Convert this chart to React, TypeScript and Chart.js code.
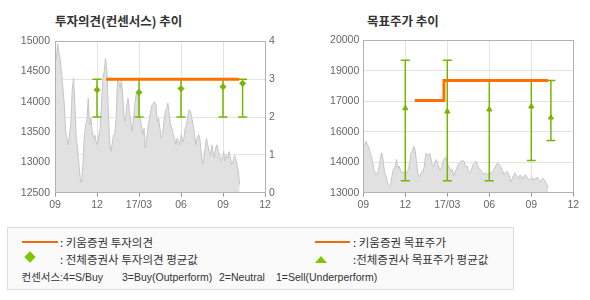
import React, { useEffect, useRef } from "react";
import { Chart, registerables } from "chart.js";

Chart.register(...registerables);

// ---- data ----
const xTickValues = [0, 3, 6, 9, 12, 15];
const xTickLabels = ["09", "12", "17/03", "06", "09", "12"];
const priceAxisLabels = ["12500", "13000", "13500", "14000", "14500", "15000"];
const opinionAxisLabels = ["0", "1", "2", "3", "4"];
const targetAxisLabels = ["13000", "14000", "16000", "17000", "19000", "20000"];

const priceEnd = 13.19;
const prices = [
  14630, 14720, 14960, 14800, 14700, 14450, 14220, 13950, 13510, 13400,
  13290, 13450, 13680, 14220, 14390, 13950, 13400, 13240, 12960, 12740,
  12660, 12960, 13400, 13620, 13680, 14060, 13620, 13730, 13510, 13400,
  13450, 13340, 13290, 13450, 13560, 13950, 14390, 14490, 14720, 14550,
  13950, 13400, 13180, 13290, 13450,
  13460, 13730, 14360, 14330, 14220, 14360, 14110, 13730, 13680, 13950,
  14060, 13840, 13680, 13510, 13680, 13950, 14110, 14170, 13950, 13730,
  13620, 13460, 13560, 13240, 13400, 13560, 13730, 13840, 13950, 13980,
  14000, 13950, 13680, 13730, 13560, 13400, 13460, 13680, 13840, 13890,
  13980, 13780, 13620, 13560, 13460, 13400, 13290,
  13400, 13340, 13290, 13460, 13340, 13400, 13560, 13620, 13780, 13870,
  13840, 13730, 13620, 13460, 13290, 13400, 13460, 13400, 13180, 12960,
  13070, 13240, 13400, 13290, 13180, 13120, 13290, 13180, 13070, 13240,
  13290, 13180, 13120, 13020, 13070, 13180, 13020, 13120, 13070, 13180,
  13070, 12960, 13020, 13120, 13070, 12960, 12850, 12630,
];

const opinionX = [3.65, 13.16];
const opinionY = [3, 3];
const consensusX = [3, 6, 9, 12, 13.4];
const opinionHigh = [3, 3, 3, 3, 3];
const opinionLow = [2, 2, 2, 2, 2];
const opinionMean = [2.72, 2.65, 2.75, 2.8, 2.89];

const targetX = [3.68, 5.76, 13.21];
const targetY = [17000, 18000, 18000];
const targetHigh = [19000, 19000, 18000, 18000, 18000];
const targetLow = [13000, 13000, 13000, 14000, 15000];
const targetMean = [16610, 16450, 16550, 16700, 16150];

const consensusNote = ["컨센서스:4=S/Buy", "3=Buy(Outperform)", "2=Neutral", "1=Sell(Underperform)"];

// ---- styles ----
const ORANGE = "#ff7000";
const GREEN = "#76b600";
const GRID = "#e4e4e4";
const FRAME = "#b2b2b2";
const LABEL = "#666";
const TICKFONT = { family: "'Liberation Sans', Arial, sans-serif", size: 10.5 };

const pricePoints = () =>
  prices.map((y, i) => ({ x: (i * priceEnd) / (prices.length - 1), y }));
const linePoints = (xs: number[], ys: number[]) => xs.map((x, i) => ({ x, y: ys[i] }));
const barPoints = (xs: number[], hi: number[], lo: number[]) => {
  const pts: any[] = [];
  xs.forEach((x, i) => {
    pts.push({ x, y: lo[i] }, { x, y: hi[i] }, { x, y: null });
  });
  return pts;
};

const framePlugin = {
  id: "frame",
  afterDatasetsDraw(chart: any) {
    const { ctx, chartArea: a } = chart;
    ctx.save();
    ctx.strokeStyle = FRAME;
    ctx.lineWidth = 1;
    ctx.strokeRect(Math.round(a.left) + 0.5, Math.round(a.top) + 0.5, Math.round(a.right - a.left), Math.round(a.bottom - a.top));
    ctx.restore();
  },
};

const xScale = (h: number) => ({
  type: "linear",
  min: 0,
  max: 15,
  afterBuildTicks: (s: any) => {
    s.ticks = xTickValues.map((v) => ({ value: v }));
  },
  ticks: {
    autoSkip: false,
    maxRotation: 0,
    padding: 2,
    color: LABEL,
    font: TICKFONT,
    callback: (_v: any, i: number) => xTickLabels[i],
  },
  grid: { color: GRID, tickColor: "#999", tickLength: 4 },
  border: { display: false },
  afterFit: (s: any) => {
    s.height = h;
  },
});

const priceDataset = (axis: string) => ({
  type: "line",
  data: pricePoints(),
  yAxisID: axis,
  borderColor: "#c6c6c6",
  borderWidth: 1,
  backgroundColor: "#e1e1e1",
  fill: "start",
  pointRadius: 0,
  tension: 0,
  order: 5,
});

const barDataset = (axis: string, hi: number[], lo: number[]) => ({
  type: "line",
  data: barPoints(consensusX, hi, lo),
  yAxisID: axis,
  borderColor: GREEN,
  borderWidth: 1.5,
  pointStyle: "line",
  pointRadius: 4.5,
  pointBorderWidth: 1.5,
  pointBorderColor: GREEN,
  spanGaps: false,
  order: 3,
});

function LeftChart() {
  const ref = useRef<HTMLCanvasElement>(null);
  useEffect(() => {
    const chart = new Chart(ref.current as HTMLCanvasElement, {
      type: "line",
      data: {
        datasets: [
          priceDataset("y") as any,
          barDataset("y2", opinionHigh, opinionLow) as any,
          {
            type: "line",
            data: consensusX.map((x, i) => ({ x, y: opinionMean[i] })),
            yAxisID: "y2",
            showLine: false,
            pointStyle: "rectRot",
            pointRadius: 3,
            pointBackgroundColor: GREEN,
            pointBorderColor: GREEN,
            pointBorderWidth: 1,
            order: 2,
          } as any,
          {
            type: "line",
            data: linePoints(opinionX, opinionY),
            yAxisID: "y2",
            borderColor: ORANGE,
            borderWidth: 3,
            pointRadius: 0,
            order: 1,
          } as any,
        ],
      },
      options: {
        responsive: false,
        animation: false,
        devicePixelRatio: 1,
        layout: { padding: { top: 10.7, left: 0, right: 0, bottom: 0 } },
        plugins: { legend: { display: false }, tooltip: { enabled: false } },
        scales: {
          x: xScale(27.3) as any,
          y: {
            position: "left",
            min: 12500,
            max: 15000,
            ticks: { stepSize: 500, padding: 5, color: LABEL, font: TICKFONT, callback: (_v: any, i: number) => priceAxisLabels[i] },
            grid: { display: false, drawTicks: false },
            border: { display: false },
            afterFit: (s: any) => {
              s.width = 55;
            },
          },
          y2: {
            position: "right",
            min: 0,
            max: 4,
            ticks: { stepSize: 1, padding: 4, color: LABEL, font: TICKFONT, callback: (_v: any, i: number) => opinionAxisLabels[i] },
            grid: { color: GRID, drawTicks: false },
            border: { display: false },
            afterFit: (s: any) => {
              s.width = 30;
            },
          },
        },
      },
      plugins: [framePlugin],
    } as any);
    return () => chart.destroy();
  }, []);
  return (
    <canvas
      ref={ref}
      width={295}
      height={190}
      style={{ position: "absolute", left: 0, top: 30, width: 295, height: 190 }}
    />
  );
}

function RightChart() {
  const ref = useRef<HTMLCanvasElement>(null);
  useEffect(() => {
    const chart = new Chart(ref.current as HTMLCanvasElement, {
      type: "line",
      data: {
        datasets: [
          priceDataset("y") as any,
          barDataset("y", targetHigh, targetLow) as any,
          {
            type: "line",
            data: consensusX.map((x, i) => ({ x, y: targetMean[i] })),
            yAxisID: "y",
            showLine: false,
            pointStyle: "triangle",
            pointRadius: 3,
            pointBackgroundColor: GREEN,
            pointBorderColor: GREEN,
            pointBorderWidth: 1,
            order: 2,
          } as any,
          {
            type: "line",
            data: linePoints(targetX, targetY),
            yAxisID: "y",
            borderColor: ORANGE,
            borderWidth: 3,
            pointRadius: 0,
            stepped: "before",
            order: 1,
          } as any,
        ],
      },
      options: {
        responsive: false,
        animation: false,
        devicePixelRatio: 1,
        layout: { padding: { top: 9.3, left: 0, right: 16.7, bottom: 0 } },
        plugins: { legend: { display: false }, tooltip: { enabled: false } },
        scales: {
          x: xScale(27.3) as any,
          y: {
            position: "left",
            min: 12400,
            max: 20000,
            ticks: { stepSize: 1520, padding: 4, color: LABEL, font: TICKFONT, callback: (_v: any, i: number) => targetAxisLabels[i] },
            grid: { color: GRID, drawTicks: false },
            border: { display: false },
            afterFit: (s: any) => {
              s.width = 68.3;
            },
          },
        },
      },
      plugins: [framePlugin],
    } as any);
    return () => chart.destroy();
  }, []);
  return (
    <canvas
      ref={ref}
      width={295}
      height={190}
      style={{ position: "absolute", left: 295, top: 30, width: 295, height: 190 }}
    />
  );
}

const KFONT = "'Noto Sans CJK KR', 'Noto Sans', sans-serif";

const abs = (left: number, top: number, extra: any = {}) => ({
  position: "absolute" as const,
  left,
  top,
  whiteSpace: "nowrap" as const,
  ...extra,
});

const noteLefts = [21.5, 122, 219, 276];

export default function App() {
  const legendText = { fontFamily: KFONT, fontSize: 11.5, lineHeight: "14px", color: "#333" };
  const noteText = {
    fontFamily: "'Liberation Sans', 'Noto Sans CJK KR', sans-serif",
    fontSize: 10.5,
    lineHeight: "14px",
    color: "#333",
  };
  return (
    <div style={{ position: "absolute", left: 0, top: 0, width: 590, height: 300, background: "#fff", overflow: "hidden" }}>
      <div style={abs(55, 14, { fontFamily: KFONT, fontWeight: 700, fontSize: 12.5, lineHeight: "14px", color: "#333" })}>
        투자의견(컨센서스) 추이
      </div>
      <div style={abs(367, 14, { fontFamily: KFONT, fontWeight: 700, fontSize: 12.5, lineHeight: "14px", color: "#333" })}>
        목표주가 추이
      </div>
      <LeftChart />
      <RightChart />
      <div
        style={abs(7, 227, {
          width: 505,
          height: 61,
          border: "1px solid #dedede",
          background: "#fafafa",
        })}
      />
      <div style={abs(22, 240.5, { width: 36, height: 2, background: "#ee6a0c" })} />
      <div style={abs(60, 234.5, legendText)}>: 키움증권 투자의견</div>
      <div style={abs(315, 240.5, { width: 35, height: 2, background: "#ee6a0c" })} />
      <div style={abs(353, 234.5, legendText)}>: 키움증권 목표주가</div>
      <div style={abs(26, 253, { width: 8, height: 8, background: "#7ec500", transform: "rotate(45deg)" })} />
      <div style={abs(60, 251.5, legendText)}>: 전체증권사 투자의견 평균값</div>
      <div
        style={abs(315, 256, {
          width: 0,
          height: 0,
          borderLeft: "6.5px solid transparent",
          borderRight: "6.5px solid transparent",
          borderBottom: "7px solid #7ec500",
        })}
      />
      <div style={abs(353, 251.5, legendText)}>:전체증권사 목표주가 평균값</div>
      {consensusNote.map((t, i) => (
        <div key={i} style={abs(noteLefts[i], 269.5, noteText)}>
          {t}
        </div>
      ))}
    </div>
  );
}
